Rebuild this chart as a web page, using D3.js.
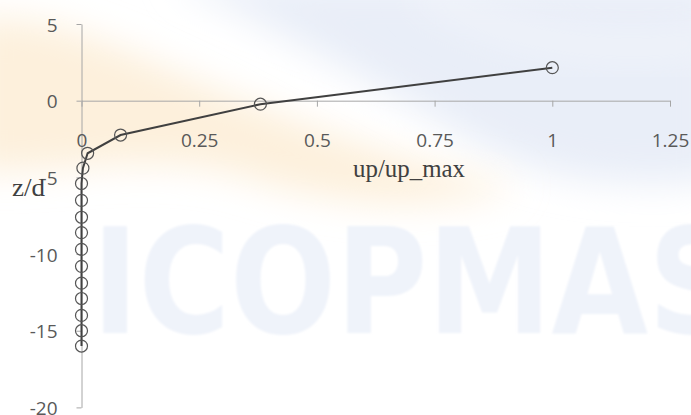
<!DOCTYPE html>
<html>
<head>
<meta charset="utf-8">
<script src="https://cdn.jsdelivr.net/npm/d3@7"></script>
<style>
  html, body { margin: 0; padding: 0; background: #ffffff; }
  svg { display: block; }
</style>
</head>
<body>
<svg id="chart" width="691" height="415"></svg>
<script>
// ---- data ----
const upRatio = [1, 0.38, 0.083, 0.013, 0.003, 0, 0, 0, 0, 0, 0, 0, 0, 0, 0, 0];
const zOverD  = [2.15, -0.23, -2.24, -3.43, -4.4, -5.4, -6.5, -7.6, -8.6, -9.7, -10.8, -11.9, -12.9, -14.0, -15.0, -16.0];
const xTickValues = [0, 0.25, 0.5, 0.75, 1, 1.25];
const xTickLabels = ["0", "0.25", "0.5", "0.75", "1", "1.25"];
const yTickValues = [5, 0, -5, -10, -15, -20];
const yTickLabels = ["5", "0", "-5", "-10", "-15", "-20"];
const xTitle = "up/up_max";
const yTitle = "z/d";
const watermark = "ICOPMAS";

const points = upRatio.map((u, i) => ({ u, z: zOverD[i] }));

const svg = d3.select("#chart");
const W = 691, H = 415;

// ---- background watermark ----
const defs = svg.append("defs");
const blur = defs.append("filter").attr("id", "blur").attr("x", "-20%").attr("y", "-50%").attr("width", "140%").attr("height", "200%");
blur.append("feGaussianBlur").attr("stdDeviation", 18);
const blur2 = defs.append("filter").attr("id", "blur2");
blur2.append("feGaussianBlur").attr("stdDeviation", 1.2);

const bg = svg.append("g").attr("class", "watermark");
bg.append("rect").attr("width", W).attr("height", H).attr("fill", "#ffffff");
// pale blue swoosh (upper right)
bg.append("path")
  .attr("d", "M170,-20 C260,20 330,60 420,110 C500,160 560,195 720,180 L720,-20 Z")
  .attr("fill", "#e9eef8").attr("filter", "url(#blur)");
// pale orange band (upper left)
bg.append("path")
  .attr("d", "M-30,20 C60,10 140,60 230,95 C320,130 420,170 520,185 C440,215 330,205 240,175 C150,150 60,175 -30,170 Z")
  .attr("fill", "#fdf0dc").attr("filter", "url(#blur)");
// white swoosh lines in the blue area
bg.append("path")
  .attr("d", "M420,-10 C500,40 600,60 720,40")
  .attr("fill", "none").attr("stroke", "#f6f8fc").attr("stroke-width", 14).attr("filter", "url(#blur)");
// big watermark text
bg.append("text")
  .attr("x", 92).attr("y", 333)
  .attr("textLength", 646).attr("lengthAdjust", "spacingAndGlyphs")
  .style("font-family", "'DejaVu Sans'").style("font-weight", "bold")
  .style("font-size", "146px")
  .attr("fill", "#eff3fa")
  .attr("filter", "url(#blur2)")
  .text(watermark);

// ---- scales ----
const x = d3.scaleLinear().domain([0, 1.25]).range([81.5, 670]);
const y = d3.scaleLinear().domain([-20, 5]).range([407.4, 24]);

const axisColor = "#a6a6a6";
const labelColor = "#595959";
const labelFont = "'Open Sans', 'Liberation Sans', sans-serif";

// ---- y axis ----
const yAxis = d3.axisLeft(y)
  .tickValues(yTickValues)
  .tickFormat((d, i) => yTickLabels[i])
  .tickSize(5).tickSizeOuter(0).tickPadding(19);
const gy = svg.append("g").attr("transform", `translate(${x(0)},0)`).call(yAxis);
gy.select(".domain").attr("stroke", axisColor);
gy.selectAll(".tick line").attr("stroke", axisColor);
gy.selectAll(".tick text")
  .attr("fill", labelColor).attr("dy", "0.37em")
  .style("font-family", labelFont).style("font-size", "19px");

// ---- x axis ----
const xAxis = d3.axisBottom(x)
  .tickValues(xTickValues)
  .tickFormat((d, i) => xTickLabels[i])
  .tickSize(6).tickSizeOuter(0).tickPadding(27);
const gx = svg.append("g").attr("transform", `translate(0,${y(0)})`).call(xAxis);
gx.select(".domain").attr("stroke", axisColor);
gx.selectAll(".tick line").attr("stroke", axisColor);
gx.selectAll(".tick text")
  .attr("fill", labelColor)
  .style("font-family", labelFont).style("font-size", "19px");

// ---- axis titles ----
svg.append("text")
  .attr("x", 353).attr("y", 177)
  .attr("textLength", 112).attr("lengthAdjust", "spacingAndGlyphs")
  .style("font-family", "'Liberation Serif', 'Times New Roman', serif")
  .style("font-size", "25px").attr("fill", "#404040")
  .text(xTitle);
svg.append("text")
  .attr("x", 12).attr("y", 196)
  .attr("textLength", 33).attr("lengthAdjust", "spacingAndGlyphs")
  .style("font-family", "'Liberation Serif', 'Times New Roman', serif")
  .style("font-size", "26px").attr("fill", "#404040")
  .text(yTitle);

// ---- data line and markers ----
const line = d3.line().x(d => x(d.u)).y(d => y(d.z));
svg.append("path")
  .datum(points)
  .attr("d", line)
  .attr("fill", "none")
  .attr("stroke", "#404040")
  .attr("stroke-width", 2);

svg.append("g").selectAll("circle")
  .data(points)
  .join("circle")
  .attr("cx", d => x(d.u))
  .attr("cy", d => y(d.z))
  .attr("r", 6)
  .attr("fill", "none")
  .attr("stroke", "#555555")
  .attr("stroke-width", 1.2);
</script>
</body>
</html>
